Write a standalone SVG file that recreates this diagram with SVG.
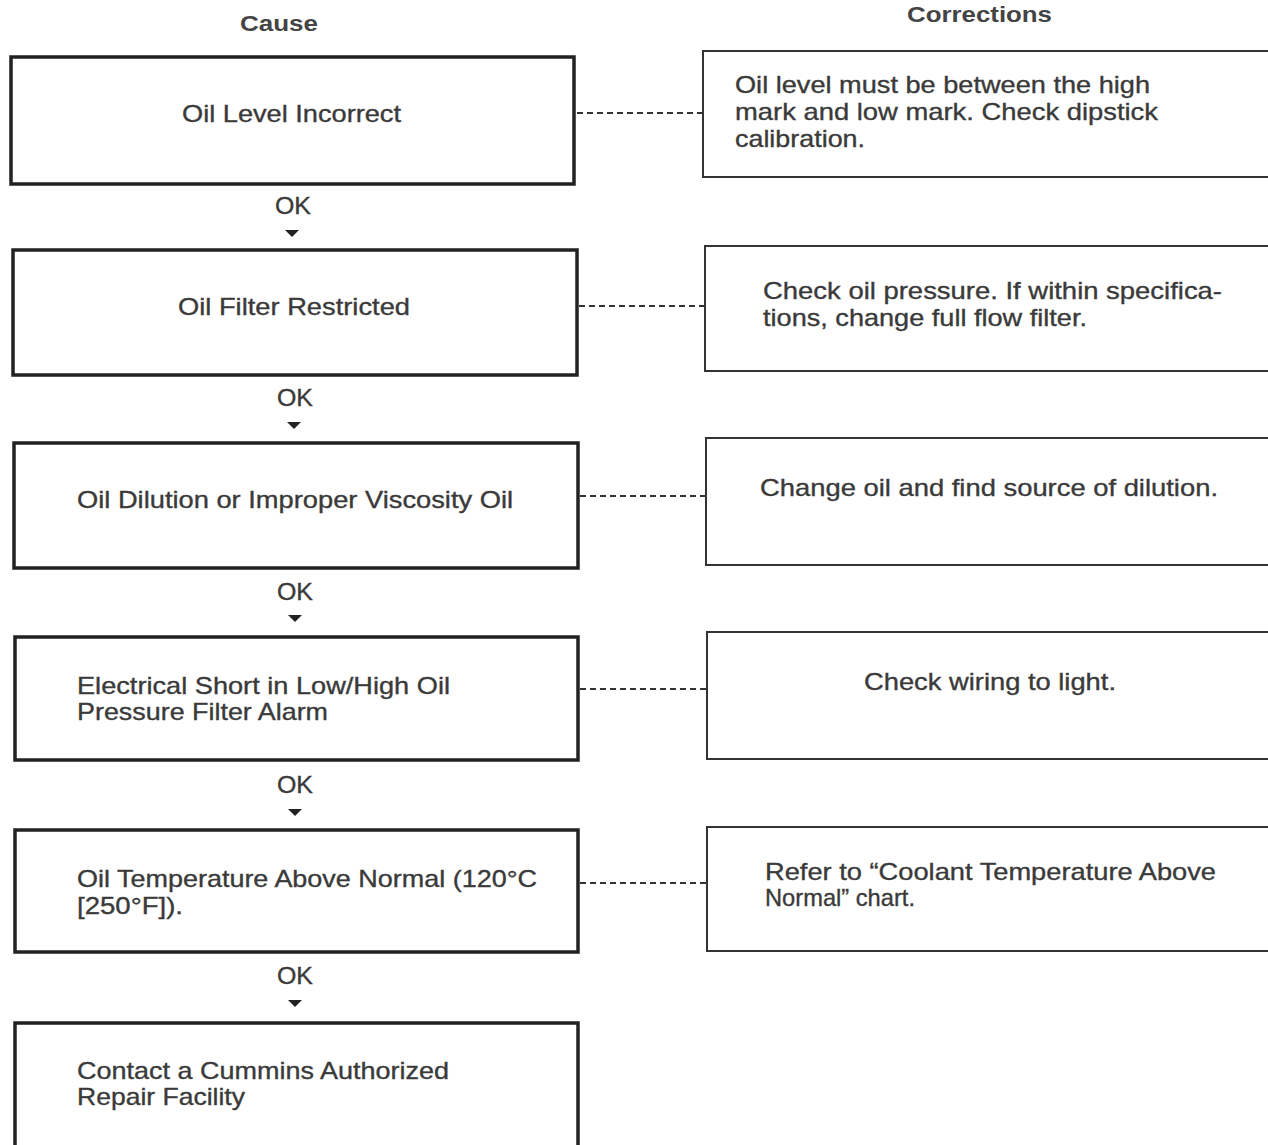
<svg xmlns="http://www.w3.org/2000/svg" width="1268" height="1145" viewBox="0 0 1268 1145">
<style>
.cause{fill:#fff;stroke:#222;stroke-width:3.5}
.corr{fill:#fff;stroke:#333;stroke-width:2}
text{font-family:"Liberation Sans",Arial,sans-serif;font-size:24px;fill:#3a3a3a;stroke:#3a3a3a;stroke-width:0.35}
.hdr{font-weight:bold;font-size:22px;fill:#444;stroke:none}
.dash{stroke:#333;stroke-width:2;stroke-dasharray:6,4;fill:none}
.arr{fill:#222}
</style>
<rect width="1268" height="1145" fill="#fff"/>
<text class="hdr" x="240" y="31" textLength="78" lengthAdjust="spacingAndGlyphs">Cause</text>
<text class="hdr" x="907" y="22" textLength="145" lengthAdjust="spacingAndGlyphs">Corrections</text>

<g id="cause1"><rect class="cause" x="11" y="57" width="563" height="127"/><text x="182" y="122" textLength="219" lengthAdjust="spacingAndGlyphs">Oil Level Incorrect</text></g>
<g id="cause2"><rect class="cause" x="13" y="250" width="564" height="125"/><text x="178" y="315" textLength="232" lengthAdjust="spacingAndGlyphs">Oil Filter Restricted</text></g>
<g id="cause3"><rect class="cause" x="14" y="443" width="564" height="125"/><text x="77" y="508" textLength="436" lengthAdjust="spacingAndGlyphs">Oil Dilution or Improper Viscosity Oil</text></g>
<g id="cause4"><rect class="cause" x="15" y="637" width="563" height="123"/><text x="77" y="694" textLength="373" lengthAdjust="spacingAndGlyphs">Electrical Short in Low/High Oil</text><text x="77" y="720" textLength="251" lengthAdjust="spacingAndGlyphs">Pressure Filter Alarm</text></g>
<g id="cause5"><rect class="cause" x="15" y="830" width="563" height="122"/><text x="77" y="887" textLength="460" lengthAdjust="spacingAndGlyphs">Oil Temperature Above Normal (120°C</text><text x="77" y="914" textLength="106" lengthAdjust="spacingAndGlyphs">[250°F]).</text></g>
<g id="cause6"><rect class="cause" x="15" y="1023" width="563" height="125"/><text x="77" y="1079" textLength="372" lengthAdjust="spacingAndGlyphs">Contact a Cummins Authorized</text><text x="77" y="1105" textLength="168" lengthAdjust="spacingAndGlyphs">Repair Facility</text></g>

<g id="corr1"><rect class="corr" x="703" y="51" width="570" height="126"/><text x="735" y="93" textLength="415" lengthAdjust="spacingAndGlyphs">Oil level must be between the high</text><text x="735" y="120" textLength="423" lengthAdjust="spacingAndGlyphs">mark and low mark. Check dipstick</text><text x="735" y="147" textLength="130" lengthAdjust="spacingAndGlyphs">calibration.</text></g>
<g id="corr2"><rect class="corr" x="705" y="246" width="568" height="125"/><text x="763" y="299" textLength="459" lengthAdjust="spacingAndGlyphs">Check oil pressure. If within specifica-</text><text x="763" y="326" textLength="324" lengthAdjust="spacingAndGlyphs">tions, change full flow filter.</text></g>
<g id="corr3"><rect class="corr" x="706" y="438" width="567" height="127"/><text x="760" y="496" textLength="458" lengthAdjust="spacingAndGlyphs">Change oil and find source of dilution.</text></g>
<g id="corr4"><rect class="corr" x="707" y="632" width="566" height="127"/><text x="864" y="690" textLength="252" lengthAdjust="spacingAndGlyphs">Check wiring to light.</text></g>
<g id="corr5"><rect class="corr" x="707" y="827" width="566" height="124"/><text x="765" y="880" textLength="451" lengthAdjust="spacingAndGlyphs">Refer to “Coolant Temperature Above</text><text x="765" y="906" textLength="150" lengthAdjust="spacingAndGlyphs">Normal” chart.</text></g>

<g id="connectors">
<line class="dash" x1="577" y1="113" x2="703" y2="113"/>
<line class="dash" x1="579" y1="306" x2="705" y2="306"/>
<line class="dash" x1="580" y1="496" x2="706" y2="496"/>
<line class="dash" x1="580" y1="689" x2="707" y2="689"/>
<line class="dash" x1="580" y1="883" x2="707" y2="883"/>
<text x="275" y="214" textLength="36" lengthAdjust="spacingAndGlyphs">OK</text>
<path class="arr" d="M285,230 L299,230 L292,237 Z"/>
<text x="277" y="406" textLength="36" lengthAdjust="spacingAndGlyphs">OK</text>
<path class="arr" d="M287,422 L301,422 L294,429 Z"/>
<text x="277" y="600" textLength="36" lengthAdjust="spacingAndGlyphs">OK</text>
<path class="arr" d="M288,615 L302,615 L295,622 Z"/>
<text x="277" y="793" textLength="36" lengthAdjust="spacingAndGlyphs">OK</text>
<path class="arr" d="M288,809 L302,809 L295,816 Z"/>
<text x="277" y="984" textLength="36" lengthAdjust="spacingAndGlyphs">OK</text>
<path class="arr" d="M288,1000 L302,1000 L295,1007 Z"/>
</g>
</svg>
